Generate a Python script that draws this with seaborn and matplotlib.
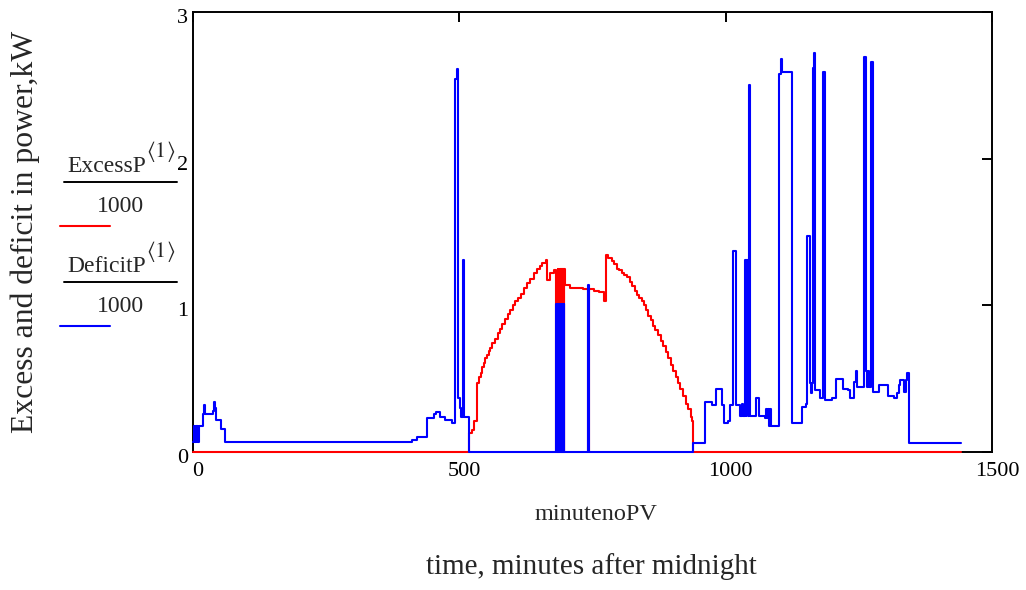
import matplotlib
matplotlib.use("Agg")
import matplotlib.pyplot as plt
import matplotlib.transforms as mtransforms
from matplotlib.lines import Line2D
import seaborn as sns

# ExcessP/1000 in kW, as step breakpoints (minute after midnight -> value)
excess_minute = [0, 519, 524, 528, 534, 537, 540, 543, 546, 549, 552, 555, 558, 562,
                 567, 572, 577, 581, 586, 591, 596, 600, 605, 610, 615, 621, 627,
                 633, 640, 645, 651, 656, 662, 664, 671, 678,
                 682, 683, 684, 685, 686, 687, 688, 689, 690, 691, 692, 693,
                 694, 695, 696, 697, 698, 707, 732, 741, 743, 752, 762, 771,
                 775, 780, 786, 791, 796, 800, 805, 810, 815, 820, 825, 830, 834,
                 838, 842, 846, 850, 855, 859, 864, 868, 873, 878, 883, 888, 892,
                 897, 901, 906, 910, 915, 920, 925, 929, 934, 937, 939, 1441]
excess_kw = [0.0, 0.13, 0.15, 0.21, 0.47, 0.51, 0.54, 0.58, 0.61, 0.64, 0.66, 0.69, 0.71, 0.74,
             0.77, 0.81, 0.84, 0.87, 0.91, 0.94, 0.97, 1.00, 1.03, 1.05, 1.08, 1.12, 1.15,
             1.18, 1.22, 1.25, 1.27, 1.29, 1.31, 1.17, 1.22, 1.24,
             0.0, 1.22, 0.0, 1.25, 0.0, 1.25, 0.0, 1.25, 0.0, 1.25, 0.0, 1.25,
             0.0, 1.25, 0.0, 1.25, 1.14, 1.12, 1.11, 0.0, 1.11, 1.10, 1.09, 1.03,
             1.345, 1.32, 1.30, 1.28, 1.25, 1.24, 1.22, 1.21, 1.19, 1.16, 1.13, 1.10, 1.07,
             1.05, 1.03, 1.00, 0.97, 0.93, 0.90, 0.86, 0.83, 0.80, 0.76, 0.72, 0.68, 0.64,
             0.59, 0.55, 0.51, 0.47, 0.43, 0.38, 0.33, 0.29, 0.24, 0.21, 0.0, 0.0]

# DeficitP/1000 in kW, as step breakpoints (minute after midnight -> value)
deficit_minute = [0, 2, 4, 5, 7, 8, 10, 11, 18, 21, 23, 37, 40, 42, 44, 52, 60,
                  411, 420, 439, 452, 457, 463, 474, 486, 492, 495, 498, 502, 504,
                  507, 509, 519,
                  682, 683, 684, 685, 686, 687, 688, 689, 690, 691, 692, 693,
                  694, 695, 696, 697, 741, 743,
                  939, 962, 975, 981, 994, 996, 1004, 1009, 1014, 1020, 1026, 1030,
                  1032, 1036, 1038, 1039, 1041, 1044, 1046, 1057, 1063, 1074, 1076,
                  1078, 1080, 1082, 1084, 1086, 1100, 1103, 1105, 1125, 1144, 1150,
                  1153, 1158, 1160, 1162, 1164, 1166, 1168, 1178, 1183, 1187, 1200,
                  1208, 1221, 1229, 1234, 1241, 1244, 1246, 1259, 1263, 1265, 1267,
                  1269, 1273, 1277, 1288, 1305, 1316, 1322, 1325, 1328, 1334, 1338,
                  1341, 1344, 1441]
deficit_kw = [0.07, 0.18, 0.07, 0.18, 0.07, 0.18, 0.07, 0.18, 0.26, 0.32, 0.26, 0.28, 0.34,
              0.30, 0.22, 0.16, 0.065,
              0.08, 0.10, 0.23, 0.26, 0.275, 0.24, 0.22, 0.20, 2.54, 2.61, 0.37, 0.30, 0.24,
              1.31, 0.24, 0.0,
              1.01, 0.0, 1.01, 0.0, 1.01, 0.0, 1.01, 0.0, 1.01, 0.0, 1.01, 0.0,
              1.01, 0.0, 1.01, 0.0, 1.14, 0.0,
              0.06, 0.34, 0.32, 0.43, 0.32, 0.20, 0.21, 0.32, 1.37, 0.32, 0.245, 0.33,
              0.245, 1.31, 0.245, 1.31, 0.245, 2.50, 0.245, 0.37, 0.245, 0.23, 0.29,
              0.23, 0.29, 0.18, 0.29, 0.18, 2.58, 2.68, 2.59, 0.20, 0.31, 0.33,
              1.47, 0.47, 0.40, 0.47, 2.62, 2.72, 0.42, 0.37, 2.59, 0.355, 0.37,
              0.50, 0.43, 0.42, 0.37, 0.48, 0.55, 0.44, 2.69, 0.55, 0.44, 0.55,
              0.44, 2.66, 0.41, 0.46, 0.38, 0.37, 0.40, 0.46, 0.49, 0.41, 0.49,
              0.54, 0.06, 0.06]

x_ticks = [0, 500, 1000, 1500]
y_ticks = [0, 1, 2, 3]

sns.set_style("white")
plt.rcParams["font.family"] = ["Liberation Serif", "DejaVu Serif"]
plt.rcParams["mathtext.fontset"] = "stix"

W, H = 1026, 590
fig = plt.figure(figsize=(W / 100, H / 100), dpi=100)


def fx(px):
    return px / W


def fy(py):
    return 1 - py / H


ax = fig.add_axes([fx(193), fy(452), (992 - 193) / W, (452 - 12) / H])

sns.lineplot(x=excess_minute, y=excess_kw, ax=ax, color="#ff0000", lw=1.5,
             drawstyle="steps-post", estimator=None, legend=False,
             clip_on=False, zorder=3)
sns.lineplot(x=deficit_minute, y=deficit_kw, ax=ax, color="#0000ff", lw=1.5,
             drawstyle="steps-post", estimator=None, legend=False,
             clip_on=False, zorder=4)

ax.set_xlim(0, 1500)
ax.set_ylim(0, 3)
ax.set_xticks(x_ticks)
ax.set_yticks(y_ticks)
ax.set_xlabel("")
ax.set_ylabel("")
for s in ax.spines.values():
    s.set_color("black")
    s.set_linewidth(1.4)
    s.set_visible(True)
ax.tick_params(direction="in", length=7, width=1.4, top=True, right=True,
               colors="black", labelsize=16)
ax.tick_params(axis="x", pad=7)
ax.tick_params(axis="y", pad=3.5)

# Tick labels sit slightly right of / below their ticks
for lbl in ax.get_xticklabels():
    lbl.set_transform(lbl.get_transform() +
                      mtransforms.ScaledTranslation(0.05, 0, fig.dpi_scale_trans))
for lbl in ax.get_yticklabels():
    lbl.set_transform(lbl.get_transform() +
                      mtransforms.ScaledTranslation(0, -0.04, fig.dpi_scale_trans))

# Axis titles
fig.text(fx(25), fy(232), "Excess and deficit in power,kW", rotation=90,
         ha="center", va="center", fontsize=22.8)
fig.text(fx(596), fy(515), "minutenoPV", ha="center", va="center", fontsize=17.5)
fig.text(fx(591), fy(567), "time, minutes after midnight", ha="center",
         va="center", fontsize=21)

# Trace legend: fraction-style names with a colour sample under each
legend_rows = [("ExcessP", "#ff0000", 0), ("DeficitP", "#0000ff", 100)]
for name, col, dy in legend_rows:
    fig.text(fx(67), fy(172 + dy), name, ha="left", va="baseline", fontsize=17)
    fig.text(fx(146), fy(152 + dy), r"$\langle 1\rangle$", ha="left",
             va="center", fontsize=16)
    fig.add_artist(Line2D([fx(64), fx(177)], [fy(182 + dy), fy(182 + dy)],
                          color="black", lw=1.4, transform=fig.transFigure))
    fig.text(fx(120), fy(212 + dy), "1000", ha="center", va="baseline", fontsize=17)
    fig.add_artist(Line2D([fx(60), fx(110)], [fy(226 + dy), fy(226 + dy)],
                          color=col, lw=1.5, transform=fig.transFigure))

fig.savefig("out.png", dpi=100)
